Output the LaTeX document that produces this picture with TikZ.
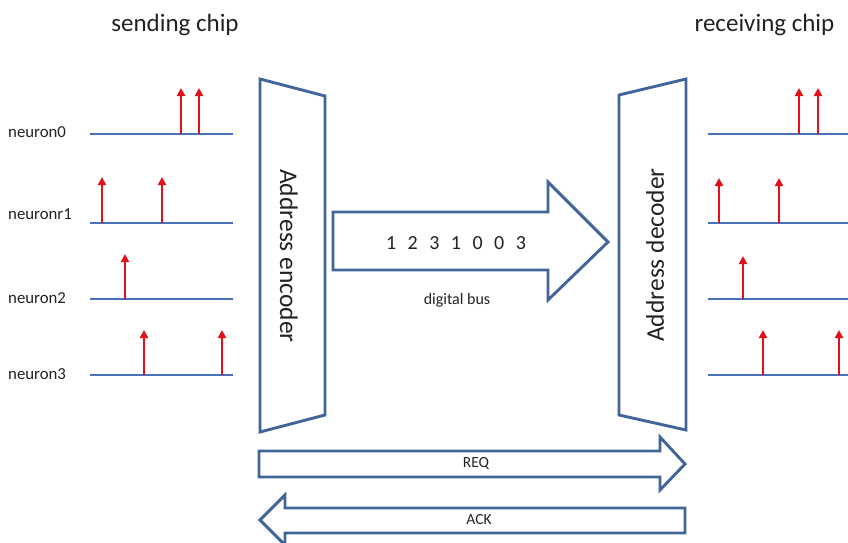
\documentclass[tikz,border=0pt]{standalone}
\usepackage{fontspec}
\setmainfont{Carlito}
\usetikzlibrary{arrows.meta}
\definecolor{outline}{HTML}{41659A}
\definecolor{axisblue}{HTML}{4A72B8}
\definecolor{spikered}{HTML}{E3101A}
\definecolor{ink}{HTML}{222222}
\begin{document}
\begin{tikzpicture}[x=1pt,y=-1pt,
  block/.style={draw=outline,line width=2.9pt,line join=miter,fill=white},
  axis/.style={draw=axisblue,line width=2.4pt},
  spike/.style={draw=spikered,line width=2.6pt,-{Triangle[width=8pt,length=8pt]}},
  lbl/.style={inner sep=0pt,text=ink},
  title/.style={lbl,font=\fontsize{25}{30}\selectfont},
  nlabel/.style={lbl,anchor=west,font=\fontsize{16.8}{20}\selectfont},
  small/.style={lbl,font=\fontsize{15.5}{18}\selectfont},
  unit/.style={lbl,font=\fontsize{25.5}{30}\selectfont}]
\useasboundingbox (0,0) rectangle (848,543);
\clip (0,0) rectangle (848,543);

% chip titles
\node[title] (send) at (175,24.5) {sending chip};
\node[title] (recv) at (764.5,24.5) {receiving chip};

% neuron names
\node[nlabel] (n0) at (8,132) {neuron0};
\node[nlabel] (n1) at (8,214) {neuronr1};
\node[nlabel] (n2) at (8,298) {neuron2};
\node[nlabel] (n3) at (8,374) {neuron3};

% spike trains, sending side
\foreach \y in {134,223,299,375} \draw[axis] (90,\y) -- (233,\y);
\foreach \x/\y/\t in {181/134/88, 199/134/88,
                      102/223/177, 162/223/177,
                      125/299/254,
                      144/375/330, 222/375/330}
  \draw[spike] (\x,\y) -- (\x,\t);

% spike trains, receiving side
\foreach \y in {134,223,299,375} \draw[axis] (708,\y) -- (850,\y);
\foreach \x/\y/\t in {799/134/88, 818/134/88,
                      719/223/178, 779/223/178,
                      743/299/256,
                      763/375/330, 839/375/330}
  \draw[spike] (\x,\y) -- (\x,\t);

% encoder and decoder
\draw[block] (260,79) -- (325,96) -- (325,415) -- (260,432) -- cycle;
\node[unit,rotate=-90] (enc) at (289,256) {Address encoder};
\draw[block] (619,95) -- (686,79) -- (686,430) -- (619,415) -- cycle;
\node[unit,rotate=90] (dec) at (655,255) {Address decoder};

% digital bus
\draw[block] (333,212) -- (548,212) -- (548,182) -- (608,242) -- (548,300)
  -- (548,270) -- (333,270) -- cycle;
\node[lbl,font=\fontsize{20}{24}\selectfont] (bus) at (456,243)
  {\spaceskip=11.5pt 1 2 3 1 0 0 3};
\node[small,font=\fontsize{16}{19}\selectfont] (busname) at (457,300) {digital bus};

% handshake lines
\draw[block] (259,451) -- (660,451) -- (660,437) -- (685,464) -- (660,490)
  -- (660,477) -- (259,477) -- cycle;
\node[small] (req) at (476,463) {REQ};
\draw[block] (685,508) -- (285,508) -- (285,495) -- (260,520) -- (285,545)
  -- (285,533) -- (685,533) -- cycle;
\node[small] (ack) at (479,520) {ACK};
\end{tikzpicture}
\end{document}
